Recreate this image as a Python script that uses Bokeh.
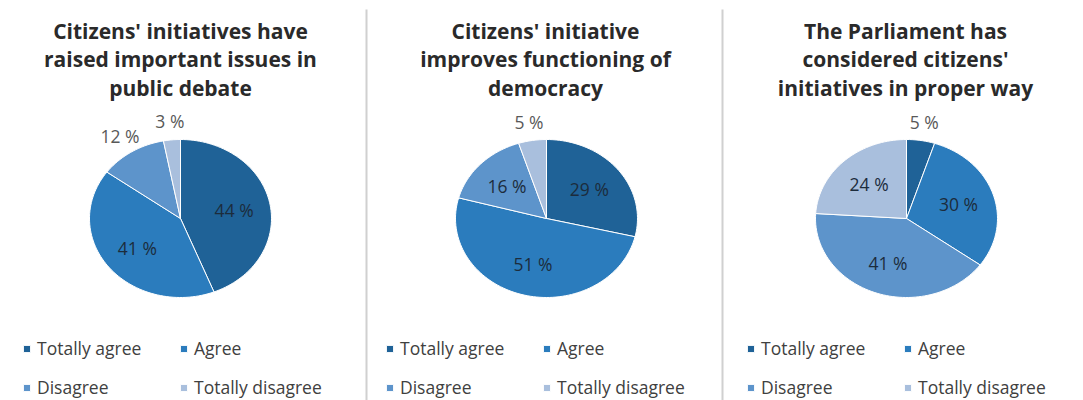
import math
from bokeh.plotting import figure
from bokeh.models import Range1d, Legend, LegendItem, ColumnDataSource
from bokeh.core.properties import value
from bokeh.embed import file_html
from bokeh.resources import INLINE

# ---- data ----
categories = ["Totally agree", "Agree", "Disagree", "Totally disagree"]
titles = [
    ["Citizens' initiatives have", "raised important issues in", "public debate"],
    ["Citizens' initiative", "improves functioning of", "democracy"],
    ["The Parliament has", "considered citizens'", "initiatives in proper way"],
]
raised_issues = [44, 41, 12, 3]
improves_democracy = [29, 51, 16, 5]
parliament_proper = [5, 30, 41, 24]
series = [raised_issues, improves_democracy, parliament_proper]

colors = ["#1F6297", "#2B7CBD", "#5D94CB", "#A9BFDD"]

W, H = 1083, 400
p = figure(width=W, height=H, output_backend="svg", toolbar_location=None,
           x_range=Range1d(0, W), y_range=Range1d(H, 0), min_border=0)
p.axis.visible = False
p.grid.visible = False
p.outline_line_color = None
p.background_fill_color = "white"

panel_x = [0, 361, 722]
pie_cx = [180, 546, 906]
cy, rx, ry = 218, 91, 79
FONT = "Open Sans"

# separators
p.segment(x0=[366, 722], y0=[9, 9], x1=[366, 722], y1=[H, H],
          line_color="#d0d0d0", line_width=2)

for k, vals in enumerate(series):
    total = float(sum(vals))
    cx = pie_cx[k]
    xs, ys = [], []
    lx, ly, lt, lc = [], [], [], []
    start = 0.0
    for v in vals:
        end = start + v / total * 2 * math.pi
        n = max(4, int((end - start) / (2 * math.pi) * 180))
        px = [cx]
        py = [cy]
        for i in range(n + 1):
            t = start + (end - start) * i / n
            px.append(cx + rx * math.sin(t))
            py.append(cy - ry * math.cos(t))
        xs.append(px)
        ys.append(py)
        mid = (start + end) / 2
        inside = v >= 15
        r = 0.6 if inside else 1.24
        lx.append(cx + rx * r * math.sin(mid))
        ly.append(cy - ry * r * math.cos(mid))
        lt.append(f"{v} %")
        lc.append("#1c2c3c" if inside else "#595959")
        start = end
    src = ColumnDataSource(dict(xs=xs, ys=ys, color=colors, label=categories))
    rend = p.patches("xs", "ys", source=src, fill_color="color",
                     line_color="white", line_width=1)
    p.text(x=lx, y=ly, text=lt, text_color=lc, text_font=value(FONT),
           text_font_size="17.5px", text_align="center", text_baseline="middle")
    # title
    tcx = [180, 545, 905][k]
    p.text(x=[tcx] * 3, y=[30, 58.5, 87], text=titles[k],
           text_font=value(FONT), text_font_style="bold", text_font_size="21px",
           text_color="#2a2a2a", text_align="center", text_baseline="middle")
    items = [LegendItem(label=categories[i], renderers=[rend], index=i)
             for i in range(4)]
    leg = Legend(items=items, orientation="horizontal", ncols=2,
                 location=(panel_x[k] + [22, 24, 24][k], 1),
                 glyph_width=9, glyph_height=9, label_standoff=6,
                 label_width=127, spacing=15, padding=0, margin=0,
                 label_text_font=FONT, label_text_font_size="17.5px",
                 label_text_color="#404040", border_line_alpha=0,
                 background_fill_alpha=0)
    p.add_layout(leg)

open("out.html", "w").write(file_html(p, INLINE))
